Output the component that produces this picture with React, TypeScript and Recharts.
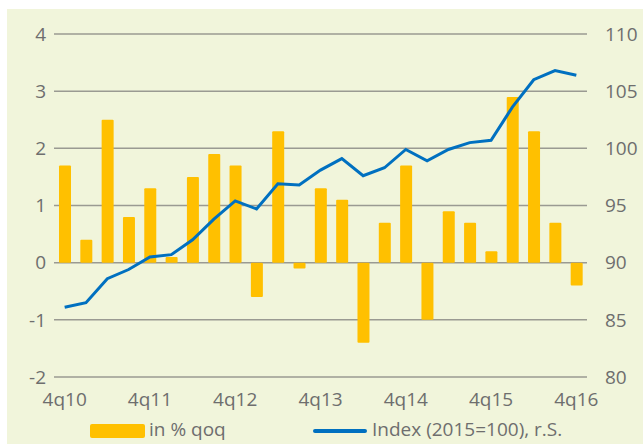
import React from 'react';
import {
  ComposedChart,
  Bar,
  Line,
  XAxis,
  YAxis,
  CartesianGrid,
} from 'recharts';

const quarters = [
  '4q10', '1q11', '2q11', '3q11', '4q11', '1q12', '2q12', '3q12', '4q12',
  '1q13', '2q13', '3q13', '4q13', '1q14', '2q14', '3q14', '4q14',
  '1q15', '2q15', '3q15', '4q15', '1q16', '2q16', '3q16', '4q16',
];

// quarter-on-quarter change in %, left axis
const qoq = [
  1.7, 0.4, 2.5, 0.8, 1.3, 0.1, 1.5, 1.9, 1.7,
  -0.6, 2.3, -0.1, 1.3, 1.1, -1.4, 0.7, 1.7,
  -1.0, 0.9, 0.7, 0.2, 2.9, 2.3, 0.7, -0.4,
];

// index 2015=100, right axis
const indexLevel = [
  86.1, 86.5, 88.6, 89.4, 90.5, 90.7, 92.0, 93.8, 95.4,
  94.7, 96.9, 96.8, 98.1, 99.1, 97.6, 98.3, 99.9,
  98.9, 99.9, 100.5, 100.7, 103.6, 106.0, 106.8, 106.4,
];

const leftTicks = [-2, -1, 0, 1, 2, 3, 4];
const rightTicks = [80, 85, 90, 95, 100, 105, 110];

const data = quarters.map((q, i) => ({ q, qoq: qoq[i], index: indexLevel[i] }));

const BAR = '#ffc000';
const LINE = '#0070c0';
const TEXT = '#6e6e6e';
const FONT = '"Open Sans", sans-serif';

const App: React.FC = () => {
  return (
    <div
      style={{
        position: 'absolute',
        left: 0,
        top: 0,
        width: 643,
        height: 444,
        background: '#ffffff',
        overflow: 'hidden',
        fontFamily: FONT,
      }}
    >
      <div
        style={{
          position: 'absolute',
          left: 7,
          top: 9,
          right: 0,
          bottom: 0,
          background: '#f1f5db',
        }}
      />
      <div style={{ position: 'absolute', left: 0, top: 0 }}>
        <ComposedChart
          width={643}
          height={444}
          data={data}
          margin={{ top: 34, right: 0, left: 0, bottom: 32 }}
          barSize={12}
        >
          <CartesianGrid
            yAxisId="left"
            vertical={false}
            stroke="#9a9a92"
            strokeWidth={1.5}
          />
          <XAxis
            dataKey="q"
            interval={3}
            axisLine={false}
            tickLine={false}
            tickMargin={10}
            height={35}
            tick={{ fill: TEXT, fontSize: 19, fontFamily: FONT }}
          />
          <YAxis
            yAxisId="left"
            domain={[-2, 4]}
            ticks={leftTicks}
            width={54}
            axisLine={false}
            tickLine={false}
            tick={{ fill: TEXT, fontSize: 19, fontFamily: FONT }}
          />
          <YAxis
            yAxisId="right"
            orientation="right"
            domain={[80, 110]}
            ticks={rightTicks}
            width={56}
            axisLine={false}
            tickLine={false}
            tickMargin={12}
            tick={{ fill: TEXT, fontSize: 19, fontFamily: FONT }}
          />
          <Bar
            yAxisId="left"
            dataKey="qoq"
            fill={BAR}
            radius={1}
            isAnimationActive={false}
          />
          <Line
            yAxisId="right"
            dataKey="index"
            type="linear"
            stroke={LINE}
            strokeWidth={3}
            dot={false}
            isAnimationActive={false}
          />
        </ComposedChart>
      </div>
      <div
        style={{
          position: 'absolute',
          left: 90,
          top: 424,
          width: 55,
          height: 14,
          borderRadius: 2,
          background: BAR,
        }}
      />
      <div
        style={{
          position: 'absolute',
          left: 149,
          top: 420,
          fontSize: 19,
          lineHeight: '19px',
          color: TEXT,
          whiteSpace: 'nowrap',
        }}
      >
        in % qoq
      </div>
      <div
        style={{
          position: 'absolute',
          left: 313,
          top: 429,
          width: 54,
          height: 4,
          borderRadius: 2,
          background: LINE,
        }}
      />
      <div
        style={{
          position: 'absolute',
          left: 372,
          top: 420,
          fontSize: 19,
          lineHeight: '19px',
          color: TEXT,
          whiteSpace: 'nowrap',
        }}
      >
        Index (2015=100), r.S.
      </div>
    </div>
  );
};

export default App;
